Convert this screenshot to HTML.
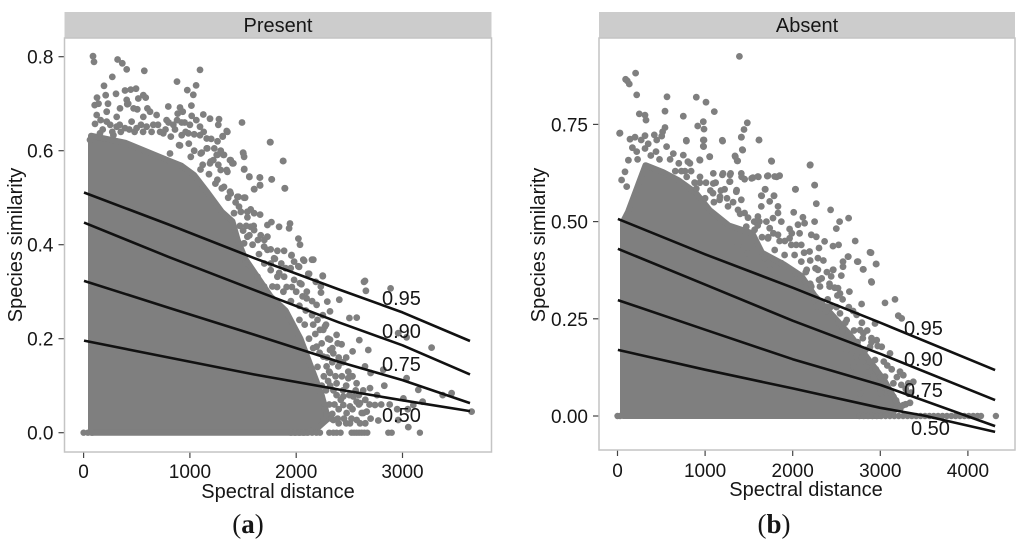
<!DOCTYPE html>
<html lang="en">
<head>
<meta charset="utf-8">
<title>Species similarity vs spectral distance</title>
<style>
html,body{margin:0;padding:0;background:#fff;}
svg{display:block;font-family:"Liberation Sans",sans-serif;filter:blur(0.35px);}
text{fill:#161616;}
</style>
</head>
<body>
<svg id="chart" xmlns="http://www.w3.org/2000/svg" width="1024" height="545" viewBox="0 0 1024 545">
  <rect x="64.5" y="12" width="427" height="26" fill="#cccccc"/>
  <text x="278" y="32" font-size="20" text-anchor="middle">Present</text>
  <rect x="599" y="12" width="416" height="26" fill="#cccccc"/>
  <text x="807" y="32" font-size="20" text-anchor="middle">Absent</text>
  <g id="panelA"></g>
  <g id="panelB"></g>
  <rect x="64.5" y="38" width="427" height="414" fill="none" stroke="#c4c4c4" stroke-width="1.5"/>
  <rect x="599" y="38" width="416" height="412" fill="none" stroke="#c4c4c4" stroke-width="1.5"/>
  <text x="382" y="305" font-size="20">0.95</text>
  <text x="382" y="338" font-size="20">0.90</text>
  <text x="382" y="371" font-size="20">0.75</text>
  <text x="382" y="422" font-size="20">0.50</text>
  <text x="904" y="335" font-size="20">0.95</text>
  <text x="904" y="366" font-size="20">0.90</text>
  <text x="904" y="397" font-size="20">0.75</text>
  <text x="911" y="435" font-size="20">0.50</text>
  <text x="278" y="498" font-size="20" text-anchor="middle">Spectral distance</text>
  <text x="806" y="496" font-size="20" text-anchor="middle">Spectral distance</text>
  <text transform="translate(22,245) rotate(-90)" font-size="20" text-anchor="middle">Species similarity</text>
  <text transform="translate(545,245) rotate(-90)" font-size="20" text-anchor="middle">Species similarity</text>
  <text x="248" y="533" font-size="27" text-anchor="middle" style="font-family:'Liberation Serif',serif">(<tspan font-weight="bold">a</tspan>)</text>
  <text x="774" y="533" font-size="27" text-anchor="middle" style="font-family:'Liberation Serif',serif">(<tspan font-weight="bold">b</tspan>)</text>
</svg>
<script>
var presentXTicks = [0, 1000, 2000, 3000];
var presentYTicks = [0, 0.2, 0.4, 0.6, 0.8];
var presentYLabels = ["0.0", "0.2", "0.4", "0.6", "0.8"];
var absentXTicks = [0, 1000, 2000, 3000, 4000];
var absentYTicks = [0, 0.25, 0.5, 0.75];
var absentYLabels = ["0.00", "0.25", "0.50", "0.75"];

var presentDenseX = [70, 70, 390, 790, 920, 1040, 1170, 1300, 1400, 1450, 1520, 1640, 1760, 1900, 2040, 2140, 2240, 2300, 2200, 2100];
var presentDenseY = [0, 0.632, 0.617, 0.58, 0.568, 0.548, 0.51, 0.47, 0.45, 0.41, 0.37, 0.33, 0.29, 0.26, 0.2, 0.14, 0.08, 0.03, 0.01, 0];
var absentDenseX = [63, 63, 120, 320, 520, 700, 890, 1050, 1270, 1540, 1650, 1900, 2100, 2250, 2450, 2650, 2850, 3050, 3200, 3150, 3000];
var absentDenseY = [0, 0.5, 0.525, 0.645, 0.627, 0.606, 0.575, 0.53, 0.49, 0.47, 0.42, 0.39, 0.36, 0.31, 0.26, 0.21, 0.15, 0.09, 0.03, 0.01, 0];

var presentZeroRow = [0, 40, 80, 1950, 1990, 2030, 2070, 2110, 2150, 2190, 2224, 2311, 2350, 2380, 2418, 2521, 2545, 2568, 2592, 2616, 2642, 2669, 2866, 2898, 3164];
var absentZeroRow = [0, 30, 2760, 2810, 2860, 2910, 2960, 3010, 3060, 3110, 3160, 3210, 3260, 3310, 3360, 3410, 3460, 3510, 3560, 3610, 3660, 3710, 3760, 3810, 3860, 3910, 3960, 4010, 4060, 4110, 4150, 4320];

var presentDots = [
[88,.801],[98,.789],[320,.794],[364,.786],[405,.773],[571,.770],[1095,.772],[270,.757],[879,.747],[192,.738],[1058,.739],[976,.729],[1032,.719],
[126,.713],[208,.718],[305,.721],[389,.728],[443,.730],[493,.732],[562,.718],[515,.711],[584,.713],[405,.708],[104,.697],[411,.699],[797,.694],[907,.692],[1014,.696],[342,.690],[505,.688],[885,.679],[932,.683],[1017,.674],[1126,.677],[1189,.668],[1274,.667],[1490,.660],[123,.676],[217,.683],[311,.672],[107,.657],[217,.662],[311,.651],[452,.662],[562,.672],[625,.683],[687,.676],[781,.665],[844,.655],[923,.660],[1095,.651],[1267,.655],[1346,.642],[1309,.631],[1754,.618],[1879,.578],[1895,.520],[1503,.594],[1512,.561],[1559,.545],[1659,.543],[1769,.539],[1659,.527],[1606,.518],[1377,.580],[1409,.573],[1252,.591],[1315,.591],[1158,.626],[1095,.633],[985,.637],[923,.633],[750,.637],[656,.655],[593,.651],[499,.648],[389,.648],[154,.637],[280,.633],[60,.623],[1111,.596],[1158,.605],[907,.611],[813,.594],[1189,.573],[1267,.570],[1346,.559],[1519,.500],[1456,.502],[1377,.513],
[1757,.618],[1876,.578],[1500,.596],[1510,.587],[1309,.630],[1353,.640],[1259,.591],[1321,.591],[1384,.580],[1400,.573],[1510,.560],[1560,.544],[1657,.543],[1770,.539],[1892,.520],[1604,.518],[1660,.526],[1290,.559],[1353,.555],[1196,.577],[1102,.594],[1164,.605],[898,.612],[1008,.587],[1259,.538],[1321,.523],[1384,.509],[1447,.502],[1510,.500],[1462,.481],[1415,.467],[1572,.475],[1660,.464],[1604,.467],[1541,.458],[1767,.448],[1729,.442],[1839,.438],[1942,.445],[1933,.435],[1572,.438],[1604,.431],[2021,.413],[2036,.400],[1729,.417],[1666,.420],[1541,.417],[1510,.403],[1698,.396],[1729,.389],[1823,.387],[1886,.387],[1955,.377],[2074,.366],[2149,.368],[1980,.364],[2027,.353],[1948,.350],[2121,.338],[2250,.333],[1792,.371],[1760,.346],[1823,.332],[1886,.332],[1980,.325],[2049,.316],[2184,.321],[2231,.311],[1525,.360],[1635,.332],[1698,.311],[1776,.311],[2638,.321],
[2647,.323],[2656,.302],[2888,.307],[2405,.283],[2249,.334],[2233,.298],[2293,.279],[2192,.272],[2500,.244],[2569,.245],[2318,.258],[3274,.181],[3039,.203],[2960,.212],[2594,.197],[2678,.176],[2531,.173],[2427,.188],[2647,.141],[2700,.127],[2819,.134],[3039,.116],[3149,.091],[2829,.100],[2694,.095],[2568,.105],[2490,.130],[2490,.116],[2396,.141],[2349,.169],[2380,.208],[2255,.219],[2161,.368],[2067,.368],[2020,.354],[1957,.378],[2114,.338],[2035,.318],[2098,.286],[3462,.084],[3378,.080],[3189,.066],[3650,.045],[3102,.059],[3008,.073],[2741,.059],[2663,.045],[2616,.042],[2569,.027],[2506,.020],[2772,.026],[2960,.027],[3055,.012],[2286,.034],[2443,.059],[2349,.027],[2255,.027],
[2318,.198],[2270,.226],[2160,.230],[2224,.219],[2318,.176],[2412,.148],[2506,.120],[2537,.077],[2600,.063],[2506,.056],[2474,.042],[2631,.042],[2568,.066],[2443,.077],[2380,.105],[2318,.127],[2286,.141],[2255,.162],[2192,.183],
[140,.70],[160,.665],[180,.645],[230,.70],[250,.655],[270,.64],[340,.655],[350,.64],[420,.70],[430,.645],[470,.69],[480,.64],[540,.655],[560,.64],[600,.69],[640,.64],[700,.655],[720,.64],[770,.645],[800,.66],[820,.63],[860,.645],[880,.665],[950,.66],[960,.64],[1000,.655],[1040,.635],[1060,.665],[1130,.64],[1200,.625],[1230,.605],[1260,.62],[1040,.60],[990,.615],[1220,.58],[1290,.60],[1120,.57],
[1100,.56],[1180,.55],[1240,.53],[1300,.52],[1360,.50],[1430,.49],[1480,.47],[1540,.47],[1470,.44],[1530,.44],[1600,.44],[1640,.41],[1700,.41],[1590,.40],[1760,.39],[1800,.37],[1860,.36],[1900,.35],[1760,.36],[1840,.34],[1910,.31],[1960,.31],[2000,.30],[2060,.29],[2100,.30],[2150,.28],[2030,.27],[2090,.26],[2150,.25],[2200,.24],[2250,.25],[2280,.23],[2180,.21],[2240,.19],[2300,.20],[2340,.18],[2390,.19],[2290,.16],[2340,.15],[2400,.16],[2440,.15],[2470,.16],[2310,.13],[2370,.12],[2430,.12],[2470,.10],[2530,.12],[2560,.09],[2590,.08],[2630,.09],[2380,.08],[2440,.09],[2500,.08],[2360,.06],[2400,.05],[2450,.03],[2530,.05],[2590,.06],[2650,.07],[2690,.06],[2400,.02],[2470,.02],[2520,.03],[2600,.02],[2650,.02],[2700,.03],[2760,.08],[2800,.06],[2880,.06],[2950,.05],[3050,.05],
[2240,.10],[2280,.09],[2320,.10],[2310,.06],[2350,.09],[2270,.05],[2330,.03],[2390,.03],[2420,.07],[2340,.04],[2260,.12],[2300,.11],[2200,.14],[2220,.17],[2160,.18],[2120,.20],[2080,.23],[2030,.24],[1950,.28],[1880,.30],[1820,.31],[1700,.36],[1650,.38],[1560,.42],[1500,.43]
];

var absentDots = [
[1391,.925],[207,.882],[93,.866],[112,.862],[135,.854],[219,.826],[565,.821],[900,.820],[1010,.807],[1105,.783],[542,.784],[249,.777],[314,.774],[325,.761],[751,.771],[980,.757],[915,.746],[987,.738],[1482,.754],[1444,.737],[1414,.717],[29,.728],[542,.742],[515,.731],[143,.712],[200,.717],[314,.721],[420,.723],[504,.720],[786,.707],[1200,.707],[1615,.710],[980,.710],[980,.694],[1429,.684],[1341,.669],[1372,.656],[1052,.667],[1760,.655],[2197,.645],[2251,.594],[2030,.583],[1684,.583],[1646,.566],[1786,.566],[1817,.615],[1710,.617],[1608,.615],[1531,.611],[1417,.615],[1284,.620],[1197,.620],[1284,.603],[1094,.624],[942,.658],[827,.650],[751,.671],[637,.675],[561,.693],[447,.710],[314,.688],[219,.680],[124,.658],[86,.628],[47,.607],[105,.590],[1094,.598],[1360,.581],[1170,.564],[942,.615],[790,.615],
[24,.727],[785,.709],[987,.710],[983,.693],[1196,.709],[1413,.717],[1615,.710],[1425,.685],[1345,.667],[1367,.656],[1756,.656],[2201,.646],[1052,.667],[937,.659],[804,.654],[1413,.624],[1451,.609],[1546,.613],[1603,.616],[1718,.618],[1794,.616],[1851,.618],[1291,.624],[1280,.603],[1204,.624],[2250,.594],[2033,.583],[1687,.583],[1641,.567],[1786,.567],[1737,.552],[2269,.546],[2433,.530],[1832,.539],[1832,.522],[2011,.524],[2117,.511],[2250,.500],[2535,.500],[2638,.509],[2498,.482],[2136,.496],[2060,.492],[1965,.481],[1870,.500],[1737,.483],[1775,.509],[1641,.539],[1451,.522],[1356,.577],[1413,.556],[1223,.583],[1090,.573],[1166,.556],[1261,.539],[1375,.530],[1470,.487],[1603,.513],[1565,.479],[1718,.457],[1832,.466],[1965,.457],[2079,.470],[2212,.466],[2269,.461],[2364,.449],[2460,.437],[2524,.440],[2714,.450],[2300,.432],[2193,.423],[2098,.440],[1984,.440],[1908,.414],[1794,.427],[2882,.421],[2631,.410],[2574,.397],[2745,.397],[2954,.391],[2802,.377],[2574,.384],[2460,.376],[2555,.361],[2440,.359],[2288,.406],[2288,.376],[2098,.397],[2022,.414],[1870,.393],[2897,.346],[2517,.329],[2421,.333],[2212,.333],[2060,.359],[1737,.376],[1680,.406],[1489,.419],[1375,.440],
[2894,.420],[2738,.397],[2951,.391],[2807,.377],[2902,.344],[2787,.288],[3054,.291],[3168,.300],[2635,.410],[2464,.376],[2331,.354],[2647,.320],[2540,.315],[2426,.333],[3206,.258],[3244,.251],[2940,.238],[2807,.213],[2959,.195],[3016,.178],[2883,.178],[3111,.161],[2730,.153],[2769,.221],[2616,.247],[2540,.264],[2464,.255],[3225,.114],[3263,.105],[3320,.084],[3377,.088],[3054,.101],[3149,.084],[2940,.144],[2921,.101],[2845,.127],[3320,.058],[3339,.034],[3263,.028],[3149,.050],[3016,.058],[2769,.058],[2692,.127],[2616,.170],[2388,.281],[2274,.281],[2198,.315],[2084,.354],[2312,.333],[2160,.376],
[170,.69],[230,.66],[270,.71],[350,.70],[380,.67],[440,.68],[480,.66],[600,.66],[660,.63],[700,.65],[730,.63],[770,.63],[840,.63],[880,.60],[940,.60],[1010,.60],[1060,.58],[1120,.60],[1180,.58],[1250,.56],[1320,.55],[1400,.52],[1490,.51],[1560,.50],[1620,.50],[1700,.50],[1780,.47],[1850,.45],[1910,.45],[1990,.47],[2040,.44],[2130,.42],[2200,.40],[2260,.38],[2350,.40],[2390,.37],[2420,.34],[2480,.33],[2510,.31],[2570,.30],[2640,.28],[2690,.27],[2730,.26],[2790,.24],[2850,.22],[2900,.20],[2970,.18],[3040,.14],[3080,.13],[3130,.12],[3190,.10],[3240,.08],[3290,.07],[3350,.06],[3290,.03],[3230,.02],[2400,.30],[2300,.35],[2500,.28],[2600,.24],[2700,.22],
[2150,.37],[2200,.34],[2250,.30],[2330,.29],[2380,.27],[2430,.28],[2520,.24],[2570,.22],[2620,.20],[2680,.18],[2740,.19],[2790,.15],[2830,.17],[2880,.14],[2950,.12],[3000,.10],[3000,.06],[3080,.07],[3120,.06],[3180,.04],[2900,.19],[2800,.20],[1720,.46],[1650,.46],[1600,.49],[1100,.55],[1000,.56],[900,.585]
];

var presentQ95X = [4, 800, 1600, 2400, 3000, 3635];
var presentQ95Y = [0.511, 0.443, 0.372, 0.305, 0.256, 0.195];
var presentQ90X = [4, 800, 1600, 2400, 3000, 3635];
var presentQ90Y = [0.447, 0.374, 0.304, 0.235, 0.186, 0.124];
var presentQ75X = [4, 800, 1600, 2400, 3000, 3635];
var presentQ75Y = [0.323, 0.266, 0.209, 0.151, 0.112, 0.063];
var presentQ50X = [4, 800, 1600, 2400, 3000, 3635];
var presentQ50Y = [0.196, 0.16, 0.124, 0.092, 0.069, 0.046];

var absentQ95X = [5, 1000, 2000, 3000, 4310];
var absentQ95Y = [0.507, 0.416, 0.33, 0.24, 0.118];
var absentQ90X = [5, 1000, 2000, 3000, 4310];
var absentQ90Y = [0.43, 0.338, 0.245, 0.16, 0.041];
var absentQ75X = [5, 1000, 2000, 3000, 4310];
var absentQ75Y = [0.298, 0.222, 0.146, 0.08, -0.026];
var absentQ50X = [5, 1000, 2000, 3000, 3500, 4310];
var absentQ50Y = [0.17, 0.119, 0.071, 0.021, 0.001, -0.041];

var NS = "http://www.w3.org/2000/svg";
var DOT_COLOR = "#7f7f7f";

function make(tag, attrs, parent) {
  var el = document.createElementNS(NS, tag);
  for (var k in attrs) el.setAttribute(k, attrs[k]);
  parent.appendChild(el);
  return el;
}

function presentSx(v) { return 83.6 + v * 0.1063; }
function presentSy(v) { return 432.7 - v * 470; }
function absentSx(v) { return 617.5 + v * 0.0876; }
function absentSy(v) { return 416 - v * 388.8; }

function drawPanel(g, sx, sy, xTicks, yTicks, yLabels, denseX, denseY, dots, zeroRow, lines, layout) {
  var densePts = denseX.map(function (x, i) { return sx(x).toFixed(1) + "," + sy(denseY[i]).toFixed(1); }).join(" ");
  var dense = make("polygon", {points: densePts, fill: DOT_COLOR, stroke: DOT_COLOR, "stroke-width": 6, "stroke-linejoin": "round"}, g);
  
  

  dots.forEach(function (d) {
    var c = make("circle", {cx: sx(d[0]).toFixed(1), cy: sy(d[1]).toFixed(1), r: 3.4, fill: DOT_COLOR}, g);
    
    
  });
  zeroRow.forEach(function (x) {
    var c = make("circle", {cx: sx(x).toFixed(1), cy: sy(0).toFixed(1), r: 3.2, fill: DOT_COLOR}, g);
    
    
  });

  lines.forEach(function (ln) {
    var pts = ln.xs.map(function (x, i) { return sx(x).toFixed(1) + "," + sy(ln.ys[i]).toFixed(1); }).join(" ");
    var p = make("polyline", {points: pts, fill: "none", stroke: "#111", "stroke-width": 2.6, "stroke-linejoin": "round"}, g);
    
    
  });

  xTicks.forEach(function (t) {
    var x = sx(t);
    var tick = make("line", {x1: x, x2: x, y1: layout.bottom, y2: layout.bottom + 6, stroke: "#444", "stroke-width": 1.2}, g);
    
    
    var lab = make("text", {x: x, y: layout.xLabelY, "font-size": 19, "text-anchor": "middle"}, g);
    
    
    lab.textContent = String(t);
  });
  yTicks.forEach(function (t, i) {
    var y = sy(t);
    var tick = make("line", {x1: layout.left - 6, x2: layout.left, y1: y, y2: y, stroke: "#444", "stroke-width": 1.2}, g);
    
    
    var lab = make("text", {x: layout.left - 11, y: y + 7, "font-size": 19, "text-anchor": "end"}, g);
    
    
    lab.textContent = yLabels[i];
  });
}

drawPanel(document.getElementById("panelA"), presentSx, presentSy, presentXTicks, presentYTicks, presentYLabels,
  presentDenseX, presentDenseY, presentDots, presentZeroRow,
  [{xs: presentQ95X, ys: presentQ95Y}, {xs: presentQ90X, ys: presentQ90Y}, {xs: presentQ75X, ys: presentQ75Y}, {xs: presentQ50X, ys: presentQ50Y}],
  {left: 64.5, bottom: 452, xLabelY: 478});
drawPanel(document.getElementById("panelB"), absentSx, absentSy, absentXTicks, absentYTicks, absentYLabels,
  absentDenseX, absentDenseY, absentDots, absentZeroRow,
  [{xs: absentQ95X, ys: absentQ95Y}, {xs: absentQ90X, ys: absentQ90Y}, {xs: absentQ75X, ys: absentQ75Y}, {xs: absentQ50X, ys: absentQ50Y}],
  {left: 599, bottom: 450, xLabelY: 477});
</script>
</body>
</html>
